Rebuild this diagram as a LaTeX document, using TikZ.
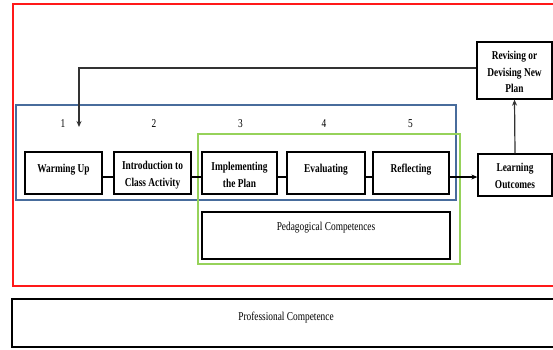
\documentclass[tikz,border=0pt]{standalone}
\usepackage{fontspec}
\setmainfont{Liberation Serif}
\newfontfamily\cf[FakeStretch=0.78]{Liberation Serif}
\usetikzlibrary{arrows.meta}
\definecolor{framered}{RGB}{255,25,25}
\definecolor{frameblue}{RGB}{72,108,156}
\definecolor{framegreen}{RGB}{150,210,90}
\definecolor{arrowgray}{RGB}{50,50,50}
\begin{document}
\begin{tikzpicture}[x=1pt,y=-1pt,
  framebox/.style={draw, line width=#1, inner sep=0pt, fill=none},
  stepbox/.style={draw=black, line width=1.3pt, inner sep=0pt},
  lbl/.style={font=\cf\bfseries\fontsize{12}{16.5}\selectfont, align=center, inner sep=0pt},
  plain/.style={font=\cf\fontsize{12}{14}\selectfont, inner sep=0pt},
  link/.style={line width=1.3pt, draw=black},
  arr/.style={line width=1.2pt, draw=arrowgray, -{Stealth[length=6pt,width=5pt]}}]
\clip (0,0) rectangle (553,349);
\fill[white] (0,0) rectangle (553,349);

% frames
\node[framebox=1.5pt, draw=framered, minimum width=547pt, minimum height=282pt] (outer) at (286.5,145) {};
\node[framebox=1.3pt, draw=frameblue, minimum width=440pt, minimum height=95pt] (stages) at (236,152.5) {};
\node[framebox=1.3pt, draw=framegreen, minimum width=262pt, minimum height=130pt] (ped) at (329,199) {};

% step boxes
\node[stepbox, minimum width=77pt, minimum height=42pt] (warm) at (63.5,173) {};
\node[stepbox, minimum width=77pt, minimum height=42pt] (intro) at (152.5,173) {};
\node[stepbox, minimum width=75pt, minimum height=42pt] (impl) at (239.5,173) {};
\node[stepbox, minimum width=78pt, minimum height=42pt] (eval) at (326,173) {};
\node[stepbox, minimum width=76pt, minimum height=42pt] (refl) at (411,173) {};
\node[stepbox, minimum width=74pt, minimum height=42pt] (learn) at (515,175) {};
\node[stepbox, minimum width=75pt, minimum height=57pt] (rev) at (514.5,70.5) {};
\node[stepbox, minimum width=248pt, minimum height=47pt] (pedbox) at (326,235.5) {};
\node[stepbox, minimum width=548pt, minimum height=48pt] (prof) at (286,323) {};

% labels
\node[lbl, anchor=base] (warmT) at (63.5,172) {Warming Up};
\node[lbl] (introT) at (152.5,175) {Introduction to\\Class Activity};
\node[lbl] (implT) at (239.5,175) {Implementing\\the Plan};
\node[lbl, anchor=base] (evalT) at (326,172) {Evaluating};
\node[lbl, anchor=base] (reflT) at (411,172) {Reflecting};
\node[lbl] (learnT) at (515,176) {Learning\\Outcomes};
\node[lbl] (revT) at (514.5,72) {Revising or\\Devising New\\Plan};
\node[plain, anchor=base] (pedT) at (326,230.5) {Pedagogical Competences};
\node[plain, anchor=base] (profT) at (286,320.5) {Professional Competence};

% numbers
\node[plain, anchor=base] (n1) at (63,127.5) {1};
\node[plain, anchor=base] (n2) at (154,127.5) {2};
\node[plain, anchor=base] (n3) at (240.5,127.5) {3};
\node[plain, anchor=base] (n4) at (324,127.5) {4};
\node[plain, anchor=base] (n5) at (410.5,127.5) {5};

% connectors
\draw[link] ([yshift=-4pt]warm.east) -- ([yshift=-4pt]intro.west);
\draw[link] ([yshift=-4pt]intro.east) -- ([yshift=-4pt]impl.west);
\draw[link] ([yshift=-4pt]impl.east) -- ([yshift=-4pt]eval.west);
\draw[link] ([yshift=-4pt]eval.east) -- ([yshift=-4pt]refl.west);
\draw[arr, draw=black, line width=1.3pt] ([yshift=-4pt]refl.east) -- ([yshift=-4pt]refl.east -| learn.west);
\draw[arr] (learn.north) -- (rev.south);
\coordinate (fbend) at (79,127);
\draw[arr] ([yshift=2.5pt]rev.west) -| (fbend);
\end{tikzpicture}
\end{document}
